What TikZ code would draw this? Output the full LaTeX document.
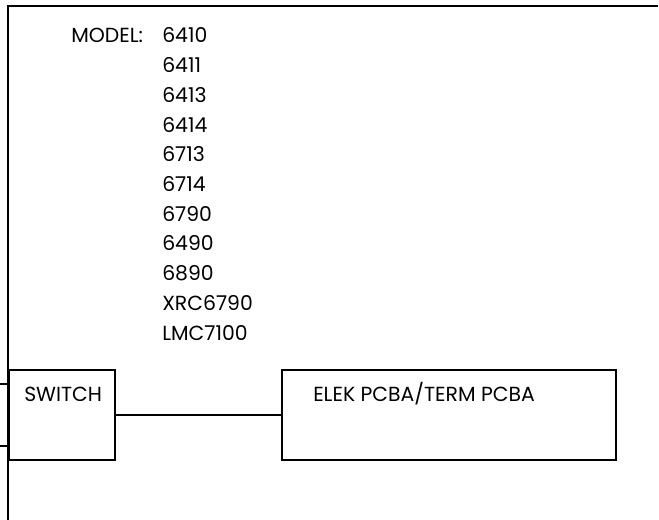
\documentclass[tikz,border=0pt]{standalone}
\usepackage{fontspec}
\setmainfont{Poppins}
\usetikzlibrary{positioning}
\tikzset{
  box/.style={draw,line width=1.5pt,rectangle,outer sep=0pt,inner sep=0pt,anchor=north west},
  lbl/.style={inner sep=0pt,anchor=base west,font=\fontsize{15.3pt}{18pt}\selectfont},
  wire/.style={line width=1.5pt}
}
\begin{document}
\begin{tikzpicture}[x=0.75pt,y=-0.75pt]
  \useasboundingbox (0,0) rectangle (659,520);
  % frame
  \coordinate (tl) at (8,6);
  \coordinate (tr) at (658,6);
  \coordinate (bl) at (8,520);
  \draw [wire] (tr) -- (tl) -- (bl);
  % model list
  \node (model) at (71,43) [lbl] {MODEL:};
  \foreach \m [count=\i from 0] in {6410,6411,6413,6414,6713,6714,6790,6490,6890,XRC6790,LMC7100}
    \node (m\i) at (162,43+29.7*\i) [lbl] {\m};
  % boxes
  \node (switch) at (9,370) [box,minimum width=79.5pt,minimum height=67.5pt] {};
  \node (elek) at (282,370) [box,minimum width=250.5pt,minimum height=67.5pt] {};
  \node at ([xshift=11.25pt,yshift=-23.25pt]switch.north west) [lbl] {SWITCH};
  \node at ([xshift=23.25pt,yshift=-23.25pt]elek.north west) [lbl] {ELEK PCBA/TERM PCBA};
  % wires
  \coordinate (inA) at (0,384);
  \coordinate (inB) at (0,446);
  \draw [wire] (inA) -- (inA -| switch.west);
  \draw [wire] (inB) -- (inB -| switch.west);
  \draw [wire] (switch.east) -- (elek.west);
\end{tikzpicture}
\end{document}
